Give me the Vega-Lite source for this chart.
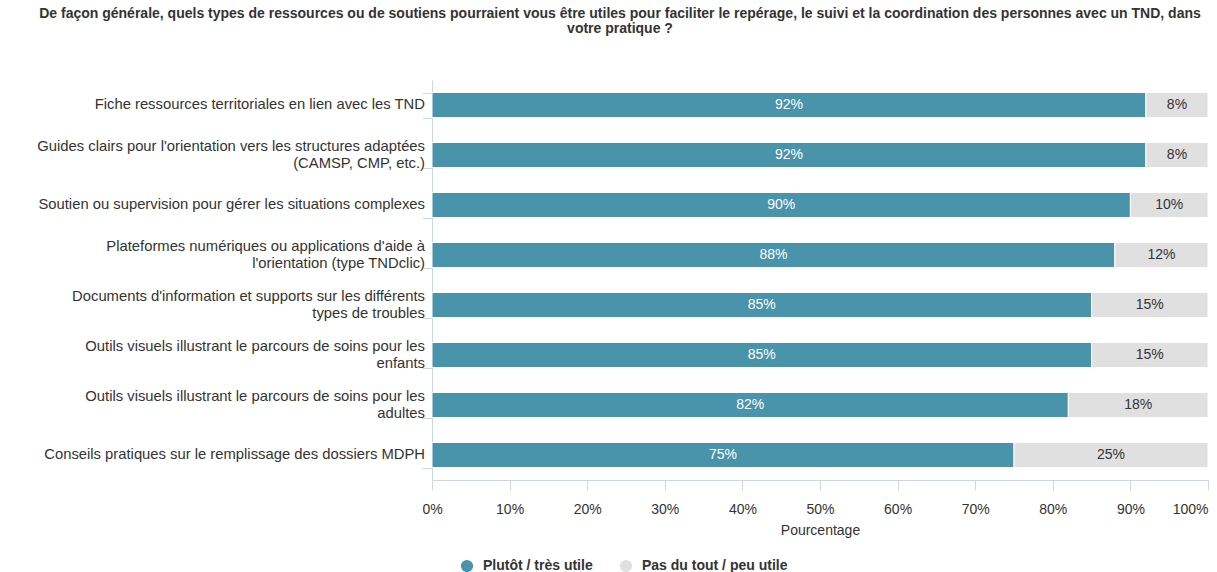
{
  "$schema": "https://vega.github.io/schema/vega-lite/v6.json",
  "width": 776,
  "height": 400,
  "autosize": {"type": "none"},
  "padding": {"left": 432, "top": 80, "right": 9, "bottom": 92},
  "background": "white",
  "config": {
    "font": "Liberation Sans",
    "view": {"stroke": null}
  },
  "title": {
    "text": ["De façon générale, quels types de ressources ou de soutiens pourraient vous être utiles pour faciliter le repérage, le suivi et la coordination des personnes avec un TND, dans", "votre pratique ?"],
    "fontSize": 14,
    "fontWeight": "bold",
    "color": "#333333",
    "anchor": "middle",
    "dx": -200,
    "offset": 44,
    "lineHeight": 15
  },
  "data": {
    "values": [
      {"cat": "Fiche ressources territoriales en lien avec les TND", "type": "Plutôt / très utile", "value": 0.92},
      {"cat": "Fiche ressources territoriales en lien avec les TND", "type": "Pas du tout / peu utile", "value": 0.08},
      {"cat": "Guides clairs pour l'orientation vers les structures adaptées\n(CAMSP, CMP, etc.)", "type": "Plutôt / très utile", "value": 0.92},
      {"cat": "Guides clairs pour l'orientation vers les structures adaptées\n(CAMSP, CMP, etc.)", "type": "Pas du tout / peu utile", "value": 0.08},
      {"cat": "Soutien ou supervision pour gérer les situations complexes", "type": "Plutôt / très utile", "value": 0.90},
      {"cat": "Soutien ou supervision pour gérer les situations complexes", "type": "Pas du tout / peu utile", "value": 0.10},
      {"cat": "Plateformes numériques ou applications d'aide à\nl'orientation (type TNDclic)", "type": "Plutôt / très utile", "value": 0.88},
      {"cat": "Plateformes numériques ou applications d'aide à\nl'orientation (type TNDclic)", "type": "Pas du tout / peu utile", "value": 0.12},
      {"cat": "Documents d'information et supports sur les différents\ntypes de troubles", "type": "Plutôt / très utile", "value": 0.85},
      {"cat": "Documents d'information et supports sur les différents\ntypes de troubles", "type": "Pas du tout / peu utile", "value": 0.15},
      {"cat": "Outils visuels illustrant le parcours de soins pour les\nenfants", "type": "Plutôt / très utile", "value": 0.85},
      {"cat": "Outils visuels illustrant le parcours de soins pour les\nenfants", "type": "Pas du tout / peu utile", "value": 0.15},
      {"cat": "Outils visuels illustrant le parcours de soins pour les\nadultes", "type": "Plutôt / très utile", "value": 0.82},
      {"cat": "Outils visuels illustrant le parcours de soins pour les\nadultes", "type": "Pas du tout / peu utile", "value": 0.18},
      {"cat": "Conseils pratiques sur le remplissage des dossiers MDPH", "type": "Plutôt / très utile", "value": 0.75},
      {"cat": "Conseils pratiques sur le remplissage des dossiers MDPH", "type": "Pas du tout / peu utile", "value": 0.25}
    ]
  },
  "encoding": {
    "y": {
      "field": "cat",
      "type": "nominal",
      "sort": null,
      "scale": {"paddingInner": 0.5, "paddingOuter": 0.25},
      "axis": {
        "title": null,
        "labels": false,
        "tickBand": "extent",
        "tickSize": 10,
        "tickColor": "#ccd6eb",
        "domainColor": "#ccd6eb",
        "grid": false
      }
    },
    "x": {
      "field": "value",
      "type": "quantitative",
      "stack": "zero",
      "scale": {"domain": [0, 1], "nice": false},
      "axis": {
        "title": "Pourcentage",
        "format": ".0%",
        "values": [0, 0.1, 0.2, 0.3, 0.4, 0.5, 0.6, 0.7, 0.8, 0.9, 1],
        "labelOverlap": false,
        "labelFlush": false,
        "labelAlign": {"condition": {"test": "datum.value >= 1", "value": "right"}, "value": "center"},
        "grid": false,
        "labelFontSize": 14,
        "labelColor": "#333333",
        "labelPadding": 12,
        "tickSize": 10,
        "tickColor": "#ccd6eb",
        "domainColor": "#ccd6eb",
        "titleFontSize": 14,
        "titleFontWeight": "normal",
        "titleColor": "#333333",
        "titlePadding": 7
      }
    },
    "order": {"field": "type", "sort": "descending"}
  },
  "layer": [
    {
      "mark": {"type": "bar", "stroke": "white", "strokeWidth": 1},
      "encoding": {
        "color": {
          "field": "type",
          "type": "nominal",
          "scale": {"domain": ["Plutôt / très utile", "Pas du tout / peu utile"], "range": ["#4993ab", "#e0e0e0"]},
          "legend": {
            "title": null,
            "orient": "none",
            "direction": "horizontal",
            "legendX": 28,
            "legendY": 479,
            "symbolType": "circle",
            "symbolSize": 150,
            "symbolStrokeWidth": 0,
            "labelFontSize": 14,
            "labelFontWeight": "bold",
            "labelColor": "#333333",
            "labelOffset": 9,
            "columnPadding": 26
          }
        }
      }
    },
    {
      "mark": {"type": "text", "fontSize": 14, "align": "center", "baseline": "middle"},
      "encoding": {
        "x": {"field": "value", "type": "quantitative", "stack": "zero", "bandPosition": 0.5},
        "text": {"field": "value", "type": "quantitative", "format": ".0%"},
        "color": {
          "condition": {"test": "datum.type === 'Plutôt / très utile'", "value": "white"},
          "value": "#333333"
        }
      }
    },
    {
      "transform": [
        {"filter": "datum.type === 'Plutôt / très utile' && indexof(datum.cat, '\\n') < 0"}
      ],
      "mark": {"type": "text", "fontSize": 14.8, "align": "right", "baseline": "middle", "dx": -7, "color": "#333333"},
      "encoding": {
        "x": {"datum": 0},
        "text": {"field": "cat"}
      }
    },
    {
      "transform": [
        {"filter": "datum.type === 'Plutôt / très utile' && indexof(datum.cat, '\\n') >= 0"},
        {"calculate": "split(datum.cat, '\\n')", "as": "lines"}
      ],
      "mark": {"type": "text", "fontSize": 14.8, "align": "right", "baseline": "middle", "dx": -7, "dy": -8.5, "lineHeight": 17, "color": "#333333"},
      "encoding": {
        "x": {"datum": 0},
        "text": {"field": "lines"}
      }
    }
  ]
}
